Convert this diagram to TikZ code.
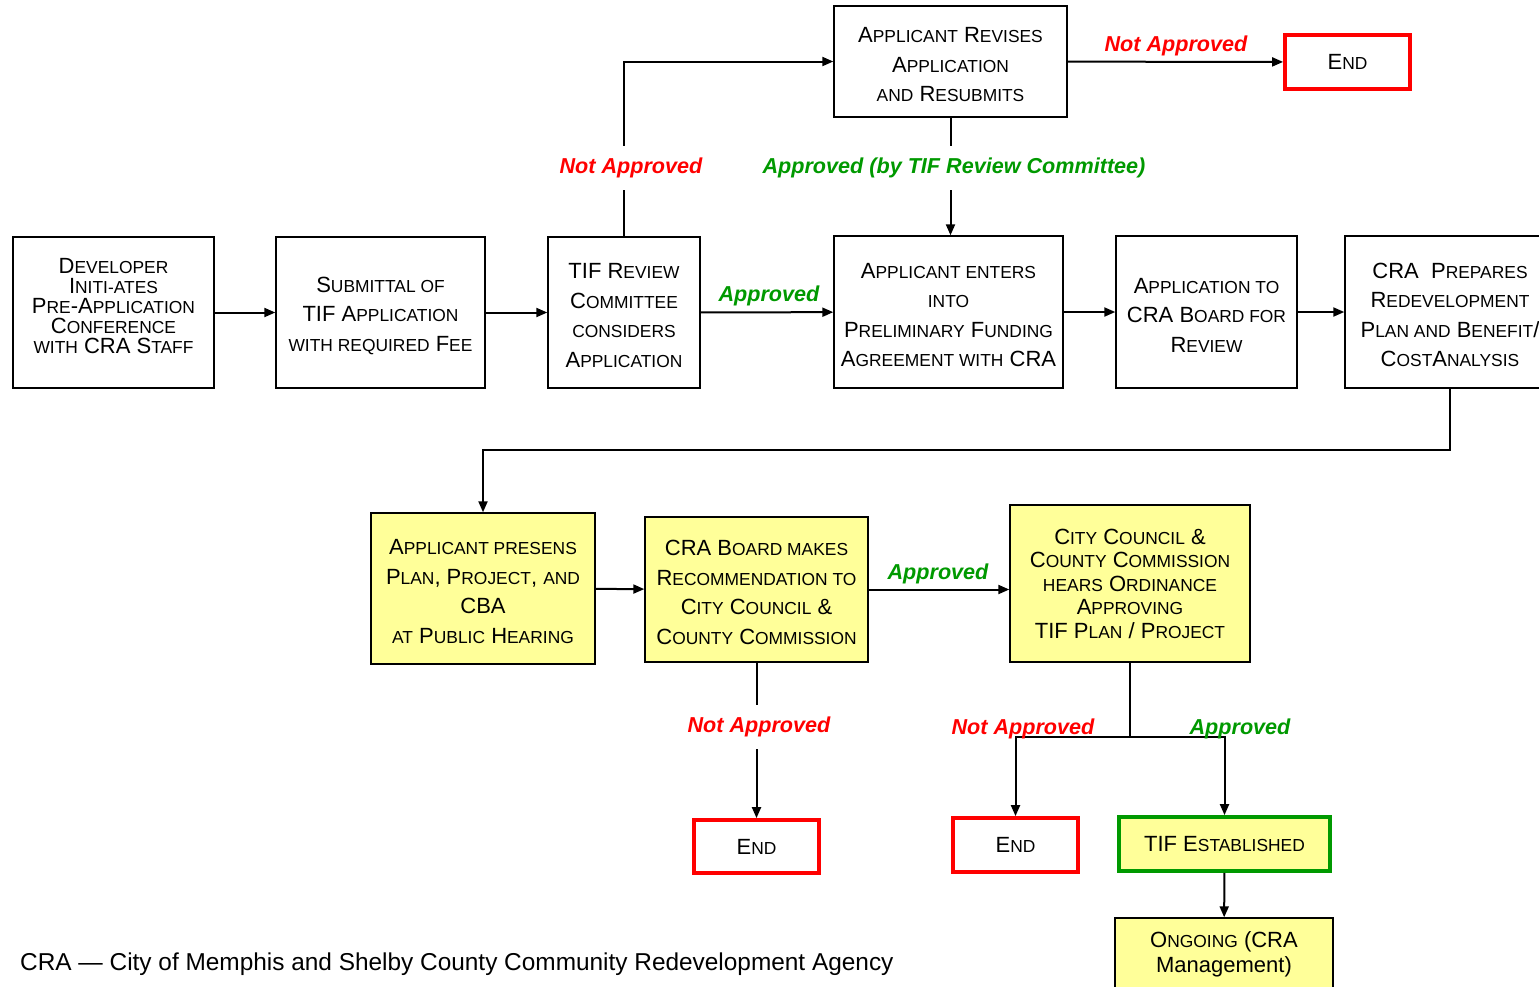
\documentclass[tikz,border=0pt]{standalone}
\usepackage{fontspec}
\setmainfont{Liberation Sans}
\usetikzlibrary{arrows.meta}
\definecolor{yel}{HTML}{FFFF99}
\definecolor{grn}{HTML}{009900}
\definecolor{rd}{HTML}{FF0000}
\newcommand\lc[1]{{\fontsize{17.4}{17.4}\selectfont #1}}
\newcommand\bxf[1]{\fontsize{22}{#1}\selectfont}
\newcommand\tallstrut{\rule{0pt}{21.5pt}}
\begin{document}
\begin{tikzpicture}[x=1pt,y=-1pt,
  box/.style={draw, line width=1.4pt, align=center, inner sep=0pt, font=\bxf{29.5}},
  endbox/.style={box, draw=rd, line width=3.8pt},
  arr/.style={line width=2pt, -{Triangle[length=11pt,width=9pt]}},
  ln/.style={line width=2pt},
  lab/.style={font=\fontsize{21.6}{21.6}\selectfont\bfseries\itshape, inner sep=0pt},
  nalab/.style={lab, text=rd},
  alab/.style={lab, text=grn}]
\useasboundingbox (0,0) rectangle (1539,986);
\clip (0,0) rectangle (1539,986);
% row 1
\node[box, font=\bxf{20}, text depth=13pt, minimum width=201, minimum height=151] (dev) at (113.5,312.5)
  {D\lc{EVELOPER}\\ I\lc{NITI-ATES}\\ P\lc{RE}-A\lc{PPLICATION}\\ C\lc{ONFERENCE}\\ \lc{WITH} CRA S\lc{TAFF}};
\node[box, minimum width=209, minimum height=151] (sub) at (380.5,312.5)
  {\tallstrut S\lc{UBMITTAL OF}\\ TIF A\lc{PPLICATION}\\ \lc{WITH REQUIRED} F\lc{EE}};
\node[box, minimum width=152, minimum height=151] (tif) at (624,312.5)
  {\tallstrut TIF R\lc{EVIEW}\\ C\lc{OMMITTEE}\\ \lc{CONSIDERS}\\ A\lc{PPLICATION}};
\node[box, minimum width=229, minimum height=152] (enter) at (948.5,312)
  {\tallstrut A\lc{PPLICANT ENTERS}\\ \lc{INTO}\\ P\lc{RELIMINARY} F\lc{UNDING}\\ A\lc{GREEMENT WITH} CRA};
\node[box, minimum width=181, minimum height=152] (app) at (1206.5,312)
  {\tallstrut A\lc{PPLICATION TO}\\ CRA B\lc{OARD FOR}\\ R\lc{EVIEW}};
\node[box, minimum width=210, minimum height=152] (prep) at (1450,312)
  {\tallstrut CRA\ \ P\lc{REPARES}\\ R\lc{EDEVELOPMENT}\\ P\lc{LAN AND} B\lc{ENEFIT}/\\ C\lc{OST}A\lc{NALYSIS}};
% top
\node[box, minimum width=233, minimum height=111] (rev) at (950.5,61.5)
  {\tallstrut A\lc{PPLICANT} R\lc{EVISES}\\ A\lc{PPLICATION}\\ \lc{AND} R\lc{ESUBMITS}};
\node[endbox, minimum width=125, minimum height=54] (endA) at (1347.5,62) {E\lc{ND}};
% row 2
\node[box, fill=yel, minimum width=224, minimum height=151] (pres) at (483,588.5)
  {\tallstrut A\lc{PPLICANT PRESENS}\\ P\lc{LAN}, P\lc{ROJECT}, \lc{AND}\\ CBA\\ \lc{AT} P\lc{UBLIC} H\lc{EARING}};
\node[box, fill=yel, minimum width=223, minimum height=145] (board) at (756.5,589.5)
  {\tallstrut CRA B\lc{OARD MAKES}\\ R\lc{ECOMMENDATION TO}\\ C\lc{ITY} C\lc{OUNCIL} \&\\ C\lc{OUNTY} C\lc{OMMISSION}};
\node[box, fill=yel, font=\bxf{23.5}, minimum width=240, minimum height=157] (council) at (1130,583.5)
  {C\lc{ITY} C\lc{OUNCIL} \&\\ C\lc{OUNTY} C\lc{OMMISSION}\\ \lc{HEARS} O\lc{RDINANCE}\\ A\lc{PPROVING}\\ TIF P\lc{LAN} / P\lc{ROJECT}};
% row 3
\node[endbox, minimum width=125, minimum height=53] (endB) at (756.5,846.5) {E\lc{ND}};
\node[endbox, minimum width=125, minimum height=54] (endC) at (1015.5,845) {E\lc{ND}};
\node[box, fill=yel, draw=grn, line width=3.8pt, minimum width=211, minimum height=54] (est) at (1224.5,844)
  {TIF E\lc{STABLISHED}};
\node[box, fill=yel, font=\bxf{25}, minimum width=218, minimum height=72] (ongo) at (1224,954)
  {O\lc{NGOING} (CRA\\ Management)};
% labels
\node[nalab, inner ysep=12pt] (naA) at (631,168) {Not Approved};
\node[alab, inner ysep=12pt] (apA) at (954,168) {Approved (by TIF Review Committee)};
\node[nalab] (naB) at (1176,46) {Not Approved};
\node[alab] (apB) at (769,296) {Approved};
\node[alab] (apC) at (938,574) {Approved};
\node[nalab, inner ysep=12pt] (naC) at (759,727) {Not Approved};
% connectors
\draw[arr] (dev) -- (sub);
\draw[arr] (sub) -- (tif);
\draw[arr] (tif) -- (enter);
\draw[arr] (enter) -- (app);
\draw[arr] (app) -- (prep);
\draw[ln] (tif.north) -- (tif.north |- naA.south);
\draw[arr] (tif.north |- naA.north) |- (rev.west);
\draw[ln] (rev.south) -- (rev.south |- apA.north);
\draw[arr] (rev.south |- apA.south) -- (rev.south |- enter.north);
\draw[arr] (rev) -- (endA);
\coordinate (turn) at (483,450);
\draw[arr] (prep.south) |- (turn) -- (pres.north);
\draw[arr] (pres) -- (board);
\draw[arr] (board.east) -- (council.west |- board.east);
\draw[ln] (board.south) -- (board.south |- naC.north);
\draw[arr] (board.south |- naC.south) -- (endB.north);
\coordinate (fork) at (1130,737);
\draw[ln] (council.south) -- (fork);
\draw[arr] (fork) -| (endC.north);
\draw[arr] (fork) -| (est.north);
\draw[arr] (est) -- (ongo);
\node[nalab] (naD) at (1023,729) {Not Approved};
\node[alab] (apD) at (1240,729) {Approved};
% footer
\node[anchor=west, inner sep=0pt, font=\fontsize{24.4}{24.4}\selectfont] (foot) at (20,964)
  {CRA — City of Memphis and Shelby County Community Redevelopment Agency};
\end{tikzpicture}
\end{document}
